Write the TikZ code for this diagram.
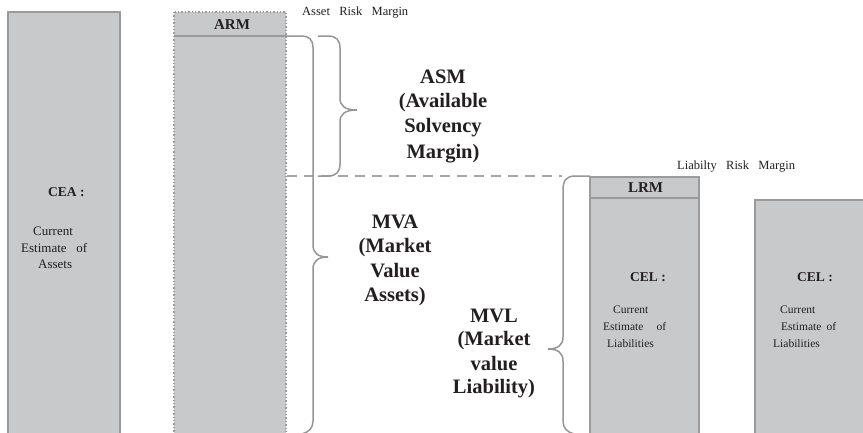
\documentclass[tikz,border=0pt]{standalone}
\usepackage{fontspec}
\setmainfont{Liberation Serif}
\definecolor{boxfill}{RGB}{200,201,203}
\definecolor{boxline}{RGB}{155,155,155}
\definecolor{brc}{RGB}{150,150,150}
\definecolor{txt}{RGB}{35,31,32}
\newcommand\wsp{\ \hspace{0.5em}}
\begin{document}
\begin{tikzpicture}[x=1pt,y=-1pt,
  colbox/.style={fill=boxfill, draw=boxline, line width=1.6pt},
  dotbox/.style={fill=boxfill, draw=boxline, line width=1.4pt, dotted},
  brace/.style={draw=brc, line width=1.5pt},
  dashline/.style={draw=brc!85, line width=1.6pt, dash pattern=on 10pt off 7pt},
  small/.style={font=\fontsize{12.5}{15}\selectfont, text=txt, inner sep=0pt, anchor=base west},
  lbl/.style={font=\fontsize{13}{16}\selectfont, text=txt, inner sep=0pt, anchor=base west},
  lbls/.style={font=\fontsize{11.5}{14}\selectfont, text=txt, inner sep=0pt, anchor=base west},
  hd/.style={font=\bfseries\fontsize{13.5}{16}\selectfont, text=txt, inner sep=0pt, anchor=base west},
  hdc/.style={font=\bfseries\fontsize{15}{18}\selectfont, text=txt, inner sep=0pt, anchor=base},
  big/.style={font=\bfseries\fontsize{20.5}{25}\selectfont, text=txt, inner sep=0pt, anchor=base}]
\useasboundingbox (0,0) rectangle (863,432);
\clip (0,0) rectangle (863,432);
\fill[white] (0,0) rectangle (863,432);

% CEA column
\draw[colbox] (8,12) rectangle (120,445);
\node[hd] (cea) at (48,196) {CEA :};
\node[lbl] (cea1) at (33,235) {Current};
\node[lbl] (cea2) at (21,252) {Estimate\wsp of};
\node[lbl] (cea3) at (38,268) {Assets};

% ARM column
\draw[dotbox] (174,12) rectangle (286,445);
\draw[draw=boxline, line width=1.6pt] (174,36) -- (286,36);
\node[hdc] (arm) at (232,29) {ARM};
\node[small] (armlbl) at (302,15) {Asset\wsp Risk\wsp Margin};

% LRM / CEL column
\draw[colbox] (590,177) rectangle (699,445);
\draw[draw=boxline, line width=1.6pt] (590,198) -- (699,198);
\node[hdc] (lrm) at (645.5,192) {LRM};
\node[small] (lrmlbl) at (677,169) {Liabilty\wsp Risk\wsp Margin};
\node[hd] (cel1) at (630,281) {CEL :};
\node[lbls] (cel1a) at (613,313) {Current};
\node[lbls] (cel1b) at (603,330) {Estimate\ \hspace{0.9em}of};
\node[lbls] (cel1c) at (607,347) {Liabilities};

% right CEL column
\draw[colbox] (755,200) rectangle (880,445);
\node[hd] (cel2) at (797,281) {CEL :};
\node[lbls] (cel2a) at (780,313) {Current};
\node[lbls] (cel2b) at (781,330) {Estimate\ \hspace{0.2em}of};
\node[lbls] (cel2c) at (773,347) {Liabilities};

% dashed line
\draw[dashline] (287,176) -- (562,176);

% MVA brace
\draw[brace] (286,36) -- (302,36) .. controls (309,36) and (313,40) .. (313,47)
  -- (313,245) .. controls (313,253) and (318,257) .. (328,257)
  .. controls (318,257) and (313,261) .. (313,269)
  -- (313,421) .. controls (313,428) and (309,432) .. (302,434);

% ASM brace
\draw[brace] (318,36) -- (328,36) .. controls (336,36) and (340,40) .. (340,48)
  -- (340,98) .. controls (340,106) and (345,110) .. (357,110)
  .. controls (345,110) and (340,114) .. (340,122)
  -- (340,164) .. controls (340,172) and (336,176) .. (328,176) -- (318,176);

% MVL brace
\draw[brace] (590,176) -- (575,176) .. controls (566,176) and (563,181) .. (563,190)
  -- (563,337) .. controls (563,345) and (558,349) .. (548,349)
  .. controls (558,349) and (563,353) .. (563,361)
  -- (563,421) .. controls (563,428) and (567,432) .. (574,434);

% big labels
\node[big] (asm1) at (443,83) {ASM};
\node[big] (asm2) at (443,107) {(Available};
\node[big] (asm3) at (443,132) {Solvency};
\node[big] (asm4) at (443,158) {Margin)};

\node[big] (mva1) at (395,228) {MVA};
\node[big] (mva2) at (395,252) {(Market};
\node[big] (mva3) at (395,277) {Value};
\node[big] (mva4) at (395,301) {Assets)};

\node[big] (mvl1) at (494,322) {MVL};
\node[big] (mvl2) at (494,345) {(Market};
\node[big] (mvl3) at (494,370) {value};
\node[big] (mvl4) at (494,393) {Liability)};
\end{tikzpicture}
\end{document}
